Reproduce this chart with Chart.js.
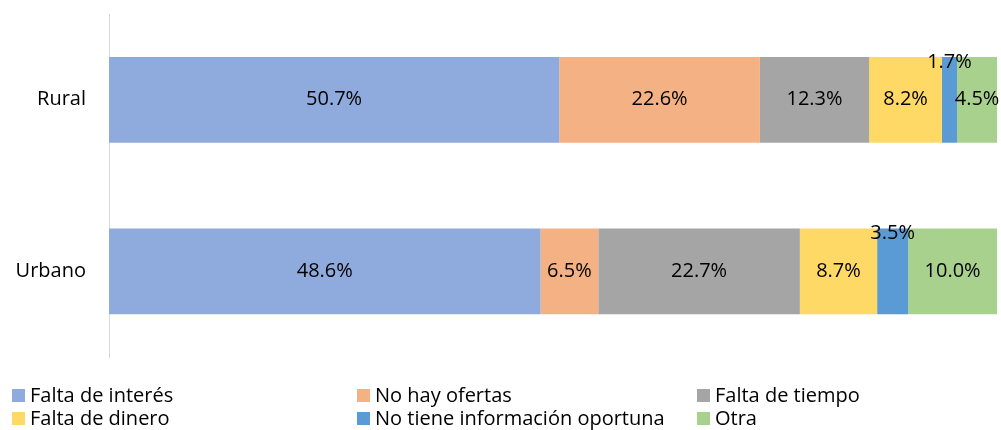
<!DOCTYPE html>
<html>
<head>
<meta charset="utf-8">
<script src="https://cdn.jsdelivr.net/npm/chart.js@4.4.0/dist/chart.umd.min.js"></script>
<style>
    body { margin: 0; background: #fff; }
    #wrap { position: relative; width: 1001px; height: 430px; }
    canvas { display: block; }
    #legend { position: absolute; left: 0; top: 383px; width: 1001px; font-family: "Open Sans", sans-serif; font-size: 20px; color: #000; }
    .item { position: absolute; display: flex; align-items: center; white-space: nowrap; line-height: 24px; }
    .box { width: 13px; height: 13px; margin-right: 5px; }
</style>
</head>
<body>
<div id="wrap">
    <canvas id="myChart" width="1001" height="430"></canvas>
    <div id="legend"></div>
</div>
<script>
const categories = ['Rural', 'Urbano'];
const seriesNames = ['Falta de interés', 'No hay ofertas', 'Falta de tiempo', 'Falta de dinero', 'No tiene información oportuna', 'Otra'];
const seriesColors = ['#8FAADC', '#F4B183', '#A5A5A5', '#FFD966', '#5B9BD5', '#A9D18E'];
const faltaInteres = [50.7, 48.6];
const noHayOfertas = [22.6, 6.5];
const faltaTiempo = [12.3, 22.7];
const faltaDinero = [8.2, 8.7];
const noInformacion = [1.7, 3.5];
const otra = [4.5, 10.0];
const seriesValues = [faltaInteres, noHayOfertas, faltaTiempo, faltaDinero, noInformacion, otra];

const legendPos = [[12, 0], [357, 0], [697, 0], [12, 23], [357, 23], [697, 23]];

// etiquetas de valores dentro de las barras
const barLabels = {
    id: 'barLabels',
    afterDatasetsDraw(chart) {
        const ctx = chart.ctx;
        ctx.save();
        ctx.font = '20px "Open Sans", sans-serif';
        ctx.fillStyle = '#000';
        ctx.textAlign = 'center';
        ctx.textBaseline = 'middle';
        chart.data.datasets.forEach((ds, i) => {
            chart.getDatasetMeta(i).data.forEach((bar, j) => {
                const v = ds.data[j];
                const cx = (bar.x + bar.base) / 2;
                let cy = bar.y;
                if (v < 4) cy = bar.y - bar.height / 2 + 5;
                ctx.fillText(v.toFixed(1) + '%', cx, cy);
            });
        });
        ctx.restore();
    }
};

const datasets = seriesNames.map((name, i) => ({
    label: name,
    data: seriesValues[i],
    backgroundColor: seriesColors[i],
    borderWidth: 0,
    categoryPercentage: 0.5,
    barPercentage: 1.0
}));

const ctx = document.getElementById('myChart').getContext('2d');
const myChart = new Chart(ctx, {
    type: 'bar',
    data: { labels: categories, datasets: datasets },
    options: {
        indexAxis: 'y',
        responsive: false,
        animation: false,
        layout: { padding: { top: 14, right: 4, bottom: 73, left: 0 } },
        plugins: { legend: { display: false }, tooltip: { enabled: false } },
        scales: {
            x: { stacked: true, min: 0, max: 100, display: false },
            y: {
                stacked: true,
                grid: { display: false, drawTicks: false },
                border: { display: true, color: '#D9D9D9', width: 1 },
                ticks: { color: '#000', font: { family: '"Open Sans", sans-serif', size: 20 }, padding: 23 },
                afterFit(scale) {
                    scale.width = 109;
                    scale.paddingTop = 0;
                    scale.paddingBottom = 0;
                }
            }
        }
    },
    plugins: [barLabels]
});

const legend = document.getElementById('legend');
seriesNames.forEach((name, i) => {
    const item = document.createElement('div');
    item.className = 'item';
    item.style.left = legendPos[i][0] + 'px';
    item.style.top = legendPos[i][1] + 'px';
    item.innerHTML = '<span class="box" style="background:' + seriesColors[i] + '"></span>' + name;
    legend.appendChild(item);
});
</script>
</body>
</html>
